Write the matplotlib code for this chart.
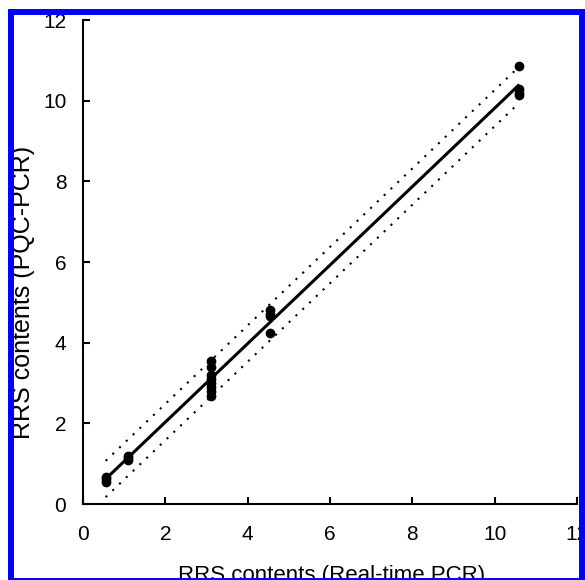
import numpy as np
import matplotlib
matplotlib.use("Agg")
import matplotlib.pyplot as plt
from matplotlib.patches import Rectangle

plt.rcParams['font.family'] = ['Liberation Sans', 'DejaVu Sans']

# data
real_time = [0.55, 0.55, 0.55, 1.1, 1.1, 1.1,
             3.1, 3.1, 3.1, 3.1, 3.1, 3.1, 3.1, 3.1,
             4.55, 4.55, 4.55, 4.55,
             10.6, 10.6, 10.6, 10.6]
pqc = [0.55, 0.62, 0.68, 1.08, 1.13, 1.18,
       3.55, 3.4, 3.2, 3.1, 3.0, 2.9, 2.8, 2.67,
       4.8, 4.72, 4.65, 4.25,
       10.85, 10.3, 10.2, 10.15]
band_offset = 0.45
xticks = [0, 2, 4, 6, 8, 10, 12]
yticks = [0, 2, 4, 6, 8, 10, 12]

W, H = 585, 580
fig = plt.figure(figsize=(W/100, H/100), dpi=100)
ax = fig.add_axes([83/W, 1-504/H, (577-83)/W, (504-20)/H])

x = np.array(real_time)
y = np.array(pqc)
slope, inter = np.polyfit(x, y, 1)
xf = np.array([x.min(), x.max()])
yf = slope * xf + inter

ax.plot(xf, yf, color='black', lw=2.2, zorder=3, solid_capstyle='butt')
ax.plot(xf, yf + band_offset, color='black', lw=1.5, ls=(0, (1, 3.5)), zorder=2)
ax.plot(xf, yf - band_offset, color='black', lw=1.5, ls=(0, (1, 3.5)), zorder=2)
ax.plot(x, y, 'o', color='black', ms=6, zorder=4)

ax.set_xlim(0, 12)
ax.set_ylim(0, 12)
ax.set_xticks(xticks)
ax.set_yticks(yticks)
ax.spines['top'].set_visible(False)
ax.spines['right'].set_visible(False)
for s in ['left', 'bottom']:
    ax.spines[s].set_linewidth(1.5)
ax.tick_params(direction='in', length=5, width=1.5, labelsize=15)
ax.tick_params(axis='y', pad=12)
ax.tick_params(axis='x', pad=15)
ax.set_xticklabels([str(t) for t in xticks])

fig.text(332/W, 1-581/H, 'RRS contents (Real-time PCR)', ha='center', va='baseline', fontsize=16)
fig.text(23/W, 1-292/H, 'RRS contents (PQC-PCR)', ha='center', va='center', rotation=90, fontsize=18)

# blue frame
fig.patches.append(Rectangle((11/W, 1-581/H), (581.5-11)/W, (581-11.5)/H,
                             transform=fig.transFigure, fill=False, edgecolor='#0000FF',
                             lw=4.3, zorder=10))
fig.savefig('out.png', dpi=100, facecolor='white')
